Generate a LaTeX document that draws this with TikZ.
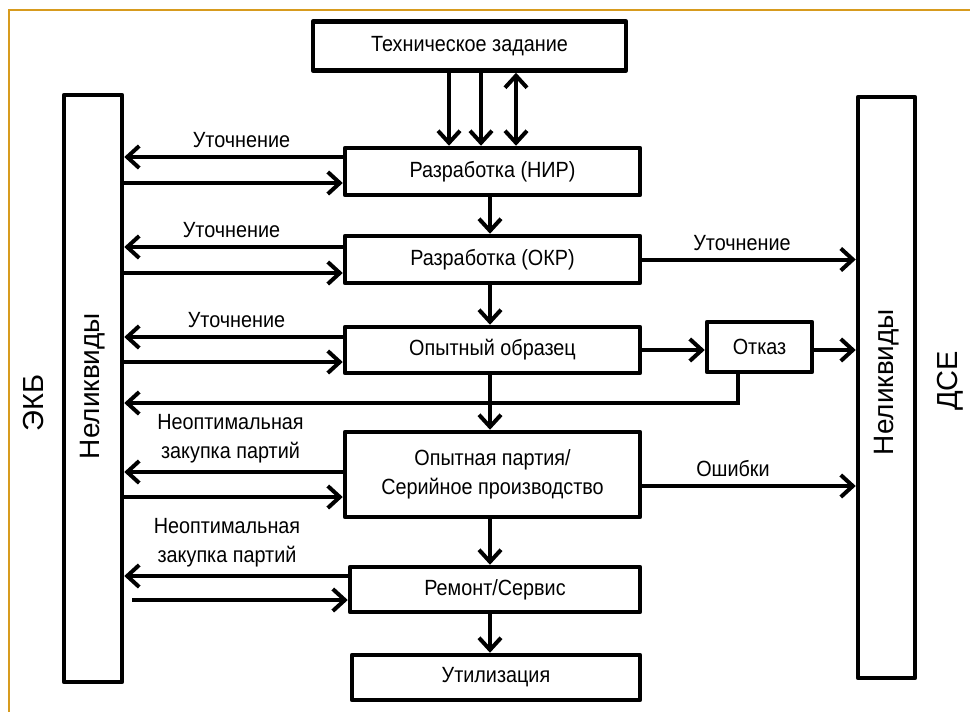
\documentclass[tikz,border=0pt]{standalone}
\usepackage{fontspec}
\setmainfont{Liberation Sans}[FakeStretch=0.9]
\newfontfamily\vertfont{Liberation Sans}
\usepackage{tikz}
\usetikzlibrary{arrows.meta,positioning}
\definecolor{ramka}{RGB}{215,155,30}

\begin{document}
\begin{tikzpicture}[x=1pt,y=-1pt]
            \tikzstyle{every node}+=[font=\fontsize{22}{29}\selectfont]
            \tikzstyle{blok}=[draw,line width=4.5pt,line join=round,inner sep=0pt]
            \tikzstyle{arr}=[line width=4pt,-{Straight Barb[length=12pt,width=22pt,line width=4pt]}]
            \tikzstyle{arrdva}=[line width=4pt,{Straight Barb[length=12pt,width=22pt,line width=4pt]}-{Straight Barb[length=12pt,width=22pt,line width=4pt]}]
            \tikzstyle{lbl}=[above,inner sep=0pt,yshift=7pt]
            \tikzstyle{vert}=[rotate=90,font=\vertfont\fontsize{28}{30}\selectfont]
            \useasboundingbox (0,0) rectangle (970,712);
            \draw [ramka,line width=2pt] (9,712) -- (9,10) -- (970,10);
            % bloki
            \node[blok,minimum width=313,minimum height=49] (tz) at (469.5,46) {Техническое задание};
            \node[blok,minimum width=295,minimum height=47] (nir) at (492.5,171.5) {Разработка (НИР)};
            \node[blok,minimum width=295,minimum height=47] (okr) at (492.5,259.5) {Разработка (ОКР)};
            \node[blok,minimum width=295,minimum height=46] (obr) at (492.5,350) {Опытный образец};
            \node[blok,minimum width=295,minimum height=85,align=center] (part) at (492.5,474.5) {Опытная партия/\\Серийное производство};
            \node[blok,minimum width=290,minimum height=45] (rem) at (495,589.5) {Ремонт/Сервис};
            \node[blok,minimum width=288,minimum height=45] (util) at (496,677.5) {Утилизация};
            \node[blok,minimum width=105,minimum height=50] (otk) at (759.5,347) {Отказ};
            \node[blok,minimum width=58,minimum height=587] (ekb) at (93,388.5) {};
            \node[vert] (ekbn) at (93,386) {Неликвиды};
            \node[blok,minimum width=57,minimum height=581] (dse) at (886.5,387.5) {};
            \node[vert] (dsen) at (886.5,382) {Неликвиды};
            \node[vert,font=\vertfont\fontsize{29}{32}\selectfont] (ekbt) at (34,403) {ЭКБ};
            \node[vert,font=\vertfont\fontsize{29}{32}\selectfont] (dset) at (950,381) {ДСЕ};
            % vniz
            \draw[arr] (tz.south -| 449,0) -- (nir.north -| 449,0);
            \draw[arr] (tz.south -| 481,0) -- (nir.north -| 481,0);
            \draw[arrdva] (tz.south -| 516,0) -- (nir.north -| 516,0);
            \draw[arr] (nir.south -| 490,0) -- (okr.north -| 490,0);
            \draw[arr] (okr.south -| 490,0) -- (obr.north -| 490,0);
            \draw[arr] (obr.south -| 490,0) -- (part.north -| 490,0);
            \draw[arr] (part.south -| 490,0) -- (rem.north -| 490,0);
            \draw[arr] (rem.south -| 490,0) -- (util.north -| 490,0);
            % vlevo
            \draw[arr] (nir.west |- 0,157) -- node[lbl,xshift=8pt] {Уточнение} (ekb.east |- 0,157);
            \draw[arr] (ekb.east |- 0,183) -- (nir.west |- 0,183);
            \draw[arr] (okr.west |- 0,247) -- node[lbl,xshift=-2pt] {Уточнение} (ekb.east |- 0,247);
            \draw[arr] (ekb.east |- 0,273) -- (okr.west |- 0,273);
            \draw[arr] (obr.west |- 0,337) -- node[lbl,xshift=3pt] {Уточнение} (ekb.east |- 0,337);
            \draw[arr] (ekb.east |- 0,362) -- (obr.west |- 0,362);
            \draw[arr] (part.west |- 0,472) -- node[lbl,align=center,xshift=-3pt] {Неоптимальная\\закупка партий} (ekb.east |- 0,472);
            \draw[arr] (ekb.east |- 0,497) -- (part.west |- 0,497);
            \draw[arr] (rem.west |- 0,576) -- node[lbl,align=center,xshift=-9pt] {Неоптимальная\\закупка партий} (ekb.east |- 0,576);
            \draw[arr] (132,600) -- (rem.west |- 0,600);
            % vpravo
            \draw[arr] (okr.east) -- node[lbl,xshift=-7pt] {Уточнение} (dse.west |- okr.east);
            \draw[arr] (obr.east) -- (otk.west |- obr.east);
            \draw[arr] (otk.east |- obr.east) -- (dse.west |- obr.east);
            \draw[arr] (part.east |- 0,486) -- node[lbl,xshift=-16pt] {Ошибки} (dse.west |- 0,486);
            \draw[arr] (otk.south -| 738,0) -- (738,403) -- (ekb.east |- 0,403);
\end{tikzpicture}
\end{document}
